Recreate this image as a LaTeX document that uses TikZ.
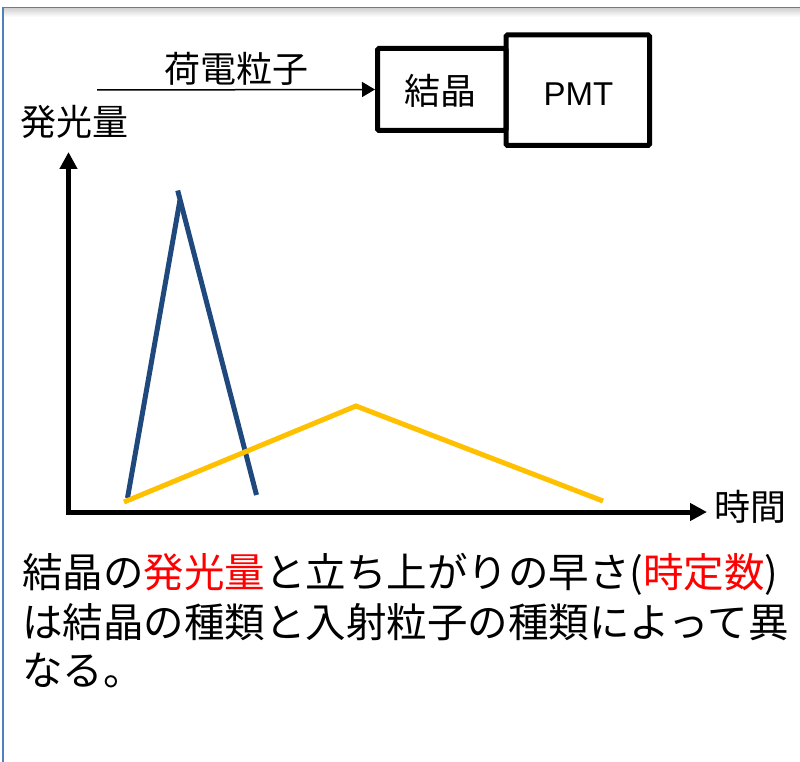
\documentclass[tikz,border=0pt]{standalone}
\usepackage{fontspec}
\setmainfont{Liberation Sans}
\newfontfamily\jp{Noto Sans CJK JP}
\usetikzlibrary{arrows.meta}
\definecolor{frameblue}{RGB}{79,129,189}
\definecolor{pulseblue}{RGB}{31,73,125}
\definecolor{pulseyellow}{RGB}{255,192,0}
\definecolor{hlred}{RGB}{255,0,0}
\tikzset{
  blockbox/.style={draw=black, line width=5pt, rounded corners=1.5pt, inner sep=0pt},
  axisline/.style={line width=5pt, line join=miter, {Triangle[length=17pt,width=17pt]}-{Triangle[length=17pt,width=17pt]}},
  pulse/.style={line width=5pt, line cap=butt, line join=miter},
  lbl/.style={inner sep=0pt, anchor=base, font=\jp\fontsize{36}{40}\selectfont},
  body/.style={inner sep=0pt, anchor=base west, font=\jp\fontsize{40.5}{48}\selectfont},
}
\begin{document}
\begin{tikzpicture}[x=1pt, y=-1pt]
\useasboundingbox (0,0) rectangle (800,762);
% frame
\shade[top color=black!18, bottom color=white] (4,8) rectangle (800,17);
\draw[frameblue, line width=1.5pt] (3,762) -- (3,7.5) -- (800,7.5);
% boxes
\node[blockbox, minimum width=128.5pt, minimum height=82pt] (crystal) at (441.75,89.5) {};
\node[blockbox, minimum width=143.5pt, minimum height=110.5pt] (pmt) at (577.75,90.25) {};
\node[lbl] (crystaltext) at (440,104.5) {結晶};
\node[inner sep=0pt, anchor=base, font=\fontsize{33}{38}\selectfont] (pmttext) at (578.5,106) {PMT};
% particle arrow
\coordinate (pstart) at (97,90);
\draw[line width=1.5pt, -{Triangle[length=13pt,width=15pt]}] (pstart) -- (crystal.west);
\node[lbl] (particle) at (236,82.5) {荷電粒子};
% axes
\coordinate (ytop) at (68.5,152);
\coordinate (origin) at (68.5,512);
\coordinate (xend) at (707,512);
\draw[axisline] (ytop) -- (origin) -- (xend);
\node[lbl] (ylabel) at (74.5,136) {発光量};
\node[lbl, anchor=base west] (xlabel) at (714,520.5) {時間};
% pulses
\coordinate (b1) at (127.5,498);
\coordinate (b2) at (180,200);
\coordinate (b3) at (177.7,190.5);
\coordinate (b4) at (256.5,495);
\draw[pulse, pulseblue] (b1) -- (b2);
\draw[pulse, pulseblue] (b3) -- (b4);
\coordinate (y1) at (124,502);
\coordinate (y2) at (356,406);
\coordinate (y3) at (603,501);
\draw[pulse, pulseyellow] (y1) -- (y2) -- (y3);
% description
\node[body] (line1) at (22,587) {結晶の\textcolor{hlred}{発光量}と立ち上がりの早さ(\textcolor{hlred}{時定数})};
\node[body] (line2) at (22,637) {は結晶の種類と入射粒子の種類によって異};
\node[body] (line3) at (22,685) {なる。};
\end{tikzpicture}
\end{document}
